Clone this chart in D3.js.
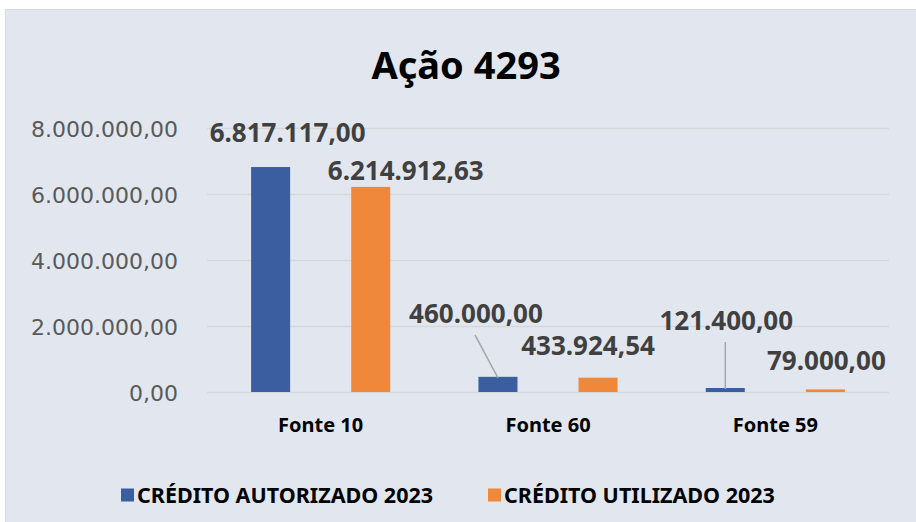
<!DOCTYPE html>
<html>
<head>
<meta charset="utf-8">
<script src="https://cdn.jsdelivr.net/npm/d3@7/dist/d3.min.js"></script>
<style>
  html, body { margin: 0; padding: 0; background: #ffffff; }
  svg { display: block; }
</style>
</head>
<body>
<svg id="chart" width="916" height="522"></svg>
<script>
// ---- data ----
const categories = ["Fonte 10", "Fonte 60", "Fonte 59"];
const seriesNames = ["CRÉDITO AUTORIZADO 2023", "CRÉDITO UTILIZADO 2023"];
const autorizado = [6817117.00, 460000.00, 121400.00];
const utilizado = [6214912.63, 433924.54, 79000.00];
const yTicks = [0, 2000000, 4000000, 6000000, 8000000];
const title = "Ação 4293";

// ---- layout ----
const W = 916, H = 522;
const plot = { left: 207, right: 889, top: 128, bottom: 392 };
const colors = ["#3a5e9f", "#f0883b"];
// data-label placement relative to each bar (centre x, bar top y), per series then category
const labelOffsets = [
  [{ dx: 17, dy: -34, leader: false }, { dx: -22, dy: -63, leader: true }, { dx: 1, dy: -67, leader: true }],
  [{ dx: 35, dy: -16, leader: false }, { dx: -10, dy: -32, leader: false }, { dx: 1, dy: -29, leader: false }]
];

const ptBR = d3.formatLocale({ decimal: ",", thousands: ".", grouping: [3], currency: ["R$ ", ""] });
const fmt = ptBR.format(",.2f");

const svg = d3.select("#chart");

// chart area background
svg.append("rect").attr("x", 5).attr("y", 9).attr("width", W - 5).attr("height", H - 9)
  .attr("fill", "#e2e7ef");
svg.append("path").attr("d", `M5.5,${H} V9.5 H${W}`)
  .attr("fill", "none").attr("stroke", "#d6d9de").attr("stroke-width", 1);

// title
svg.append("text").attr("x", 466).attr("y", 65).attr("dy", "0.357em")
  .attr("text-anchor", "middle")
  .attr("font-family", "'Noto Sans', sans-serif").attr("font-weight", 700)
  .attr("font-size", 38).attr("fill", "#000")
  .text(title);

// scales
const x0 = d3.scaleBand().domain(categories).range([plot.left, plot.right])
  .paddingInner(0.388).paddingOuter(0.194);
const x1 = d3.scaleBand().domain(d3.range(seriesNames.length)).range([0, x0.bandwidth()])
  .paddingInner(0.61).paddingOuter(0);
const y = d3.scaleLinear().domain([0, 8000000]).range([plot.bottom, plot.top]);

// gridlines + y axis labels
const yAxis = d3.axisLeft(y).tickValues(yTicks).tickFormat(fmt)
  .tickSize(-(plot.right - plot.left)).tickPadding(29);
const gy = svg.append("g").attr("transform", `translate(${plot.left},0)`).call(yAxis);
gy.select(".domain").remove();
gy.selectAll(".tick line").attr("stroke", "#d5d7da").attr("stroke-width", 1.5);
gy.selectAll(".tick text")
  .attr("font-family", "'DejaVu Sans', sans-serif").attr("font-size", 22)
  .attr("fill", "#595959").attr("dy", "0.365em");

// x axis category labels
const xAxis = d3.axisBottom(x0).tickSize(0).tickPadding(0);
const gx = svg.append("g").attr("transform", `translate(0,${plot.bottom})`).call(xAxis);
gx.select(".domain").remove();
gx.selectAll(".tick text")
  .attr("y", 33).attr("dy", "0.357em")
  .attr("font-family", "'Noto Sans', sans-serif").attr("font-weight", 700)
  .attr("font-size", 20).attr("fill", "#000");

// bars
const series = [autorizado, utilizado];
const rows = [];
series.forEach((vals, s) => vals.forEach((v, c) => rows.push({ s, c, v })));

svg.append("g").selectAll("rect").data(rows).join("rect")
  .attr("x", d => x0(categories[d.c]) + x1(d.s))
  .attr("y", d => y(d.v))
  .attr("width", x1.bandwidth())
  .attr("height", d => y(0) - y(d.v))
  .attr("fill", d => colors[d.s]);

// data labels and leader lines
const lbl = rows.map(d => {
  const o = labelOffsets[d.s][d.c];
  const cx = x0(categories[d.c]) + x1(d.s) + x1.bandwidth() / 2;
  const top = y(d.v);
  return { ...d, cx, top, lx: cx + o.dx, ly: top + o.dy, leader: o.leader };
});

svg.append("g").selectAll("line").data(lbl.filter(d => d.leader)).join("line")
  .attr("x1", d => d.lx - 1).attr("y1", d => d.ly + 21)
  .attr("x2", d => d.cx).attr("y2", d => d.top + 1)
  .attr("stroke", "#a6a6a6").attr("stroke-width", 1.5);

svg.append("g").selectAll("text").data(lbl).join("text")
  .attr("x", d => d.lx).attr("y", d => d.ly).attr("dy", "0.357em")
  .attr("text-anchor", "middle")
  .attr("font-family", "'Noto Sans', sans-serif").attr("font-weight", 700)
  .attr("font-size", 26).attr("fill", "#404040")
  .text(d => fmt(d.v));

// legend
const legendX = [121, 488];
const lg = svg.append("g").selectAll("g").data(seriesNames).join("g")
  .attr("transform", (d, i) => `translate(${legendX[i]},495)`);
lg.append("rect").attr("x", 0).attr("y", -6.5).attr("width", 13).attr("height", 13)
  .attr("fill", (d, i) => colors[i]);
lg.append("text").attr("x", 16).attr("y", 0).attr("dy", "0.357em")
  .attr("font-family", "'Noto Sans', sans-serif").attr("font-weight", 700)
  .attr("font-size", 21.5).attr("fill", "#000")
  .text(d => d);
</script>
</body>
</html>
